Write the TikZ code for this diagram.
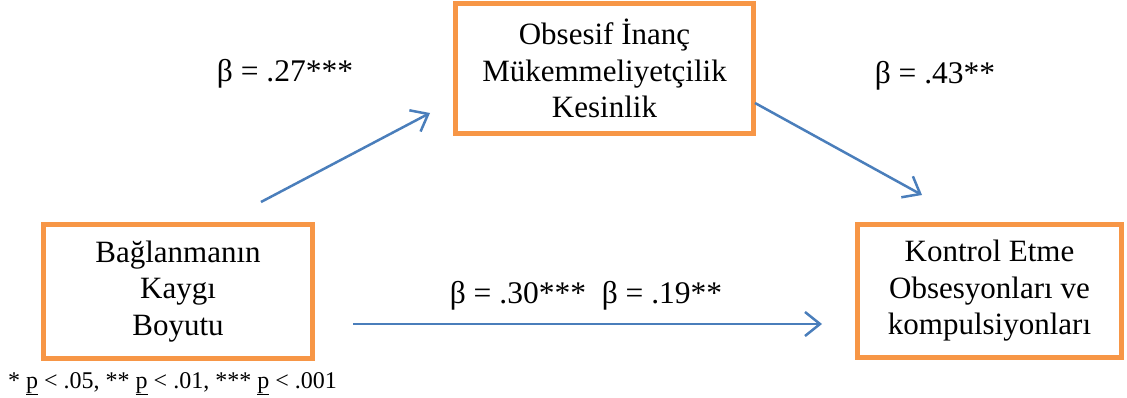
\documentclass[tikz,border=0pt]{standalone}
\usepackage{fontspec}
\setmainfont{Liberation Serif}
\usetikzlibrary{arrows.meta}

\definecolor{boxorange}{HTML}{F79646}
\definecolor{arrowblue}{HTML}{4A7EBB}

\tikzset{
  varbox/.style={draw=boxorange, line width=5pt, fill=white, align=center,
    inner sep=0pt, font=\fontsize{31}{36.5}\selectfont},
  path/.style={draw=arrowblue, line width=2.5pt, -{Straight Barb[length=15pt, width=24pt]}},
  coef/.style={anchor=base, font=\fontsize{31.5}{36.5}\selectfont}
}

\begin{document}
\begin{tikzpicture}[x=1pt, y=-1pt]
  \useasboundingbox (0,0) rectangle (1127,398);

  % boxes
  \node[varbox, minimum width=298pt, minimum height=130pt] (med) at (604.5,68.5)
    {Obsesif İnanç\\Mükemmeliyetçilik\\Kesinlik};
  \node[varbox, minimum width=269pt, minimum height=133pt] (pred) at (178,291.5)
    {Bağlanmanın\\Kaygı\\Boyutu};
  \node[varbox, minimum width=264pt, minimum height=133pt] (out) at (989.5,291)
    {Kontrol Etme\\Obsesyonları ve\\kompulsiyonları};

  % arrow ends
  \coordinate (aStart) at (261,202);
  \coordinate (aEnd) at (430,113);
  \coordinate (bStart) at (755,103);
  \coordinate (bEnd) at (922,195);
  \coordinate (cStart) at (353,324);
  \coordinate (cEnd) at (822,324);

  \draw[path] (aStart) -- (aEnd);
  \draw[path] (bStart) -- (bEnd);
  \draw[path] (cStart) -- (cEnd);

  % coefficients
  \node[coef] (ca) at (285,82) {β = .27***};
  \node[coef] (cb) at (935,84) {β = .43**};
  \node[coef] (cc) at (586,303) {β = .30***\ \ β = .19**};

  \node[anchor=base west, inner sep=0pt, font=\fontsize{24}{27}\selectfont] (note) at (8,388)
    {* \underline{p} < .05, ** \underline{p} < .01, *** \underline{p} < .001};
\end{tikzpicture}
\end{document}
